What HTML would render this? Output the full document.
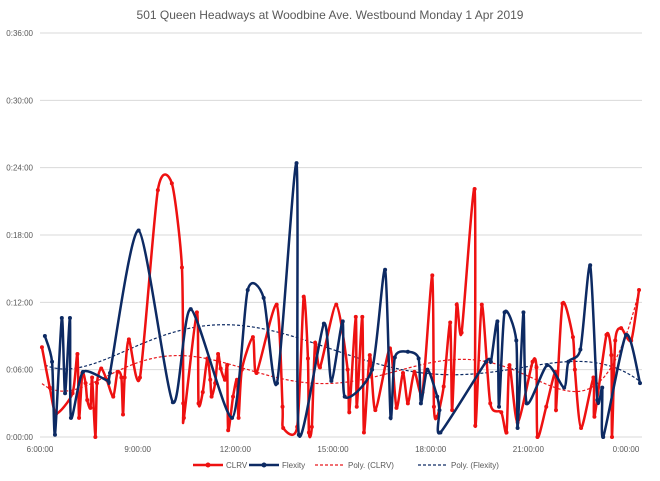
<!DOCTYPE html>
<html><head><meta charset="utf-8"><style>
html,body{margin:0;padding:0;background:#fff;}
svg{display:block;font-family:"Liberation Sans",sans-serif;}
</style></head><body>
<svg id="chart" width="660" height="481" viewBox="0 0 660 481">
<text x="330" y="19" text-anchor="middle" font-size="12" fill="#595959">501 Queen  Headways at Woodbine Ave. Westbound  Monday 1 Apr 2019</text>
<g id="grid"></g><g id="axes"></g><g id="trends"></g><g id="series"></g><g id="legend"></g>
</svg>
<script>
const yTicks=[0,6,12,18,24,30,36];
const yTickLabels=["0:00:00","0:06:00","0:12:00","0:18:00","0:24:00","0:30:00","0:36:00"];
const xTicks=[6,9,12,15,18,21,24];
const xTickLabels=["6:00:00","9:00:00","12:00:00","15:00:00","18:00:00","21:00:00","0:00:00"];
const clrvTimes=[6.06,6.3,6.5,7.0,7.15,7.2,7.3,7.4,7.45,7.55,7.6,7.7,7.75,7.88,8.05,8.25,8.38,8.5,8.55,8.6,8.73,9.07,9.62,10.05,10.36,10.4,10.42,10.82,10.87,11.0,11.14,11.23,11.27,11.38,11.47,11.55,11.68,11.75,11.78,11.93,12.05,12.1,12.2,12.54,12.65,13.27,13.45,13.47,13.9,14.1,14.23,14.26,14.35,14.45,14.6,15.1,15.45,15.5,15.7,15.73,15.9,15.95,16.13,16.3,16.75,16.95,17.15,17.3,17.5,17.75,18.05,18.1,18.2,18.4,18.6,18.66,18.8,18.95,19.35,19.37,19.57,19.83,20.17,20.33,20.42,20.67,21.13,21.25,21.28,21.55,21.83,21.85,22.05,22.37,22.43,22.62,23.0,23.03,23.4,23.55,23.57,23.67,23.85,24.16,24.4];
const clrvMinutes=[8.0,4.4,2.1,3.9,7.4,1.7,5.7,4.8,3.3,2.6,5.3,0,4.8,6.1,5.1,3.6,5.8,5.3,2.0,5.3,8.7,5.3,22.0,22.6,15.1,3.0,1.7,11.1,3.0,4.0,7.0,5.1,3.6,4.8,7.4,6.1,5.1,6.4,0.6,3.6,5.1,1.7,6.0,8.9,5.7,11.8,2.7,0.8,0.9,12.5,7.0,0.4,0.9,8.4,6.2,11.8,6.0,2.2,10.7,2.7,10.7,0.4,7.3,2.4,7.9,2.6,5.7,3.0,5.8,4.0,14.4,2.7,1.8,4.5,10.2,2.4,11.8,9.3,22.1,1.0,11.8,3.0,2.2,0.4,6.4,1.3,6.7,6.2,0,2.7,5.8,2.4,11.9,8.9,6.0,0.8,5.3,1.8,9.1,7.3,0,8.6,9.7,8.6,13.1];
const flexTimes=[6.15,6.37,6.46,6.67,6.77,6.92,6.95,7.32,8.1,8.15,9.03,10.08,10.63,11.9,12.38,12.87,13.28,13.88,13.95,14.72,14.95,15.3,15.36,16.2,16.6,16.77,16.9,17.3,17.63,17.7,17.9,18.2,18.27,18.3,19.7,19.85,20.05,20.1,20.27,20.63,20.67,20.85,20.95,21.58,22.1,22.23,22.6,22.9,23.12,23.27,23.3,24.0,24.43];
const flexMinutes=[9.0,6.7,0.2,10.6,3.9,10.6,1.7,5.8,5.0,5.7,18.4,3.1,11.4,1.7,13.1,12.4,4.8,24.4,0.2,10.1,5.0,10.3,3.6,6.0,14.9,1.7,7.1,7.6,7.0,3.0,6.0,3.6,2.4,0.4,6.7,6.7,10.3,2.7,11.1,8.6,0.8,11.1,3.0,6.4,4.4,6.7,7.8,15.3,3.3,4.4,0,9.1,4.8];

const X0=40,X1=626,Y0=437,Y1=33,XR=642;
const sx=t=>X0+(t-6)*(X1-X0)/18;
const sy=m=>Y0-m*(Y0-Y1)/36;
const NS="http://www.w3.org/2000/svg";
function mk(tag,attrs,parent){const e=document.createElementNS(NS,tag);for(const k in attrs)e.setAttribute(k,attrs[k]);parent.appendChild(e);return e;}
const grid=document.getElementById('grid'),axes=document.getElementById('axes');
yTicks.forEach((v,i)=>{
  const l=mk('line',{x1:X0,x2:XR,y1:sy(v),y2:sy(v),stroke:'#d9d9d9','stroke-width':1},grid);
  
  
  const t=mk('text',{x:33,y:sy(v)+3,'text-anchor':'end','font-size':8,fill:'#595959'},axes);
  t.textContent=yTickLabels[i];
  
  
});
xTicks.forEach((v,i)=>{
  const t=mk('text',{x:sx(v),y:452,'text-anchor':'middle','font-size':8,fill:'#595959'},axes);
  t.textContent=xTickLabels[i];
  
  
});
function smoothPath(xs,ys){
  const p=xs.map((t,i)=>[sx(t),sy(ys[i])]);
  let d=`M${p[0][0]},${p[0][1]}`;
  for(let i=0;i<p.length-1;i++){
    const a=p[Math.max(0,i-1)],b=p[i],c=p[i+1],e=p[Math.min(p.length-1,i+2)];
    const k=0.12;
    d+=` C${b[0]+(c[0]-a[0])*k},${b[1]+(c[1]-a[1])*k} ${c[0]-(e[0]-b[0])*k},${c[1]-(e[1]-b[1])*k} ${c[0]},${c[1]}`;
  }
  return d;
}
function polyFit(xs,ys,deg){
  const n=deg+1,A=[],B=[];
  const u=xs.map(x=>(x-15)/9);
  for(let r=0;r<n;r++){A.push(new Array(n).fill(0));B.push(0);}
  u.forEach((x,i)=>{for(let r=0;r<n;r++){B[r]+=ys[i]*Math.pow(x,r);for(let c=0;c<n;c++)A[r][c]+=Math.pow(x,r+c);}});
  for(let i=0;i<n;i++){let m=i;for(let j=i+1;j<n;j++)if(Math.abs(A[j][i])>Math.abs(A[m][i]))m=j;
    [A[i],A[m]]=[A[m],A[i]];[B[i],B[m]]=[B[m],B[i]];
    for(let j=i+1;j<n;j++){const f=A[j][i]/A[i][i];for(let c=i;c<n;c++)A[j][c]-=f*A[i][c];B[j]-=f*B[i];}}
  const co=new Array(n).fill(0);
  for(let i=n-1;i>=0;i--){let s=B[i];for(let c=i+1;c<n;c++)s-=A[i][c]*co[c];co[i]=s/A[i][i];}
  return x=>{const v=(x-15)/9;let s=0;for(let i=0;i<n;i++)s+=co[i]*Math.pow(v,i);return s;};
}
const trends=document.getElementById('trends'),series=document.getElementById('series');
function drawSeries(xs,ys,color,name){
  const g=mk('g',{},series);
  
  
  const p=mk('path',{d:smoothPath(xs,ys),fill:'none',stroke:color,'stroke-width':2.5,'stroke-linejoin':'round'},g);
  
  
  xs.forEach((t,i)=>{
    const c=mk('circle',{cx:sx(t),cy:sy(ys[i]),r:2,fill:color},g);
    
    
  });
}
function drawTrend(xs,ys,color,name){
  const f=polyFit(xs,ys,6);
  const a=xs[0],b=xs[xs.length-1];let d='';
  for(let i=0;i<=120;i++){const t=a+(b-a)*i/120;d+=(i?' L':'M')+sx(t)+','+sy(f(t));}
  const p=mk('path',{d:d,fill:'none',stroke:color,'stroke-width':1.2,'stroke-dasharray':'3,2'},trends);
  
  
}
drawTrend(clrvTimes,clrvMinutes,'#e8191e','trend-clrv');
drawTrend(flexTimes,flexMinutes,'#0d2a63','trend-flexity');
drawSeries(clrvTimes,clrvMinutes,'#ee1111','clrv');
drawSeries(flexTimes,flexMinutes,'#0d2a63','flexity');
const legend=document.getElementById('legend');
const items=[["CLRV","#ee1111",false,193],["Flexity","#0d2a63",false,249],["Poly. (CLRV)","#e8191e",true,315],["Poly. (Flexity)","#0d2a63",true,418]];
items.forEach(it=>{
  const g=mk('g',{},legend);
  
  
  const x=it[3],y=465;
  mk('line',{x1:x,x2:x+30,y1:y,y2:y,stroke:it[1],'stroke-width':it[2]?1.2:2.5,'stroke-dasharray':it[2]?'3,2':'none'},g);
  if(!it[2])mk('circle',{cx:x+15,cy:y,r:2.5,fill:it[1]},g);
  const t=mk('text',{x:x+33,y:y+3,'font-size':8,fill:'#595959'},g);
  t.textContent=it[0];
});
</script>
</body></html>
